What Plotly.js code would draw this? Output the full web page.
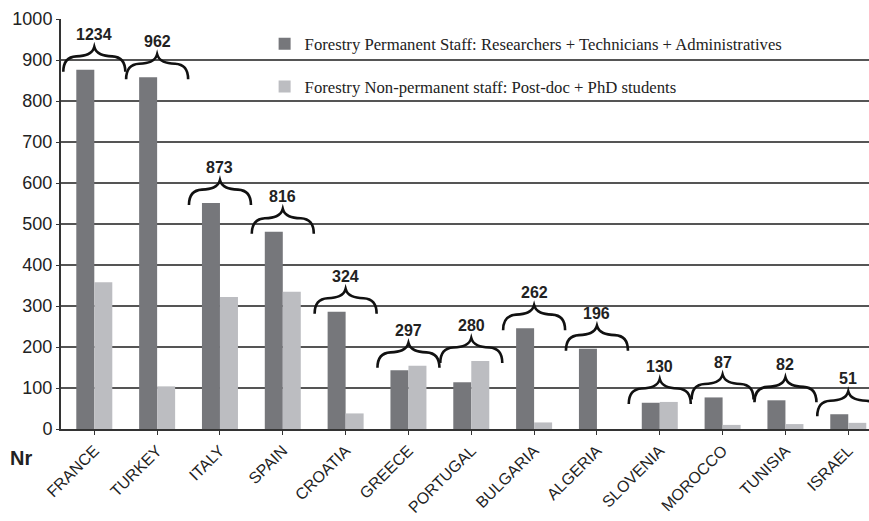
<!DOCTYPE html>
<html>
<head>
<meta charset="utf-8">
<script src="https://cdn.plot.ly/plotly-3.0.1.min.js"></script>
<style>html,body{margin:0;padding:0;background:#fff;overflow:hidden;}#chart{width:869px;height:521px;}</style>
</head>
<body>
<div id="chart"></div>
<script>
const countries = ["FRANCE","TURKEY","ITALY","SPAIN","CROATIA","GREECE","PORTUGAL","BULGARIA","ALGERIA","SLOVENIA","MOROCCO","TUNISIA","ISRAEL"];
const permanent = [876, 858, 551, 481, 286, 143, 114, 246, 196, 64, 77, 70, 36];
const nonPermanent = [358, 104, 322, 335, 38, 154, 166, 16, 0, 66, 10, 12, 15];
const totals = [1234, 962, 873, 816, 324, 297, 280, 262, 196, 130, 87, 82, 51];
const seriesNames = ["Forestry Permanent Staff: Researchers + Technicians + Administratives",
                     "Forestry Non-permanent staff: Post-doc + PhD students"];

const idx = countries.map((c, i) => i);

// geometry helpers (pixel -> data unit conversions)
const W = 869, H = 521;
const mL = 61, mR = 0, mT = 18.5, mB = 91.5;
const xr = [-0.53, 12.33];
const yr = [0, 1000];
const pxX = (xr[1] - xr[0]) / (W - mL - mR);
const pxY = (yr[1] - yr[0]) / (H - mT - mB);

const shapes = [];
const annotations = [];
idx.forEach(i => {
  const top = Math.max(permanent[i], nonPermanent[i]);
  const yb = top - 2 * pxY;
  const cx = i;
  // P(dx, dy): pixel offsets from brace bottom-centre (dy upward)
  const P = (dx, dy) => `${cx + dx * pxX},${yb + dy * pxY}`;
  const path = `M ${P(-31, 0)} C ${P(-31, 9)} ${P(-27, 15)} ${P(-18, 15.5)} ` +
               `C ${P(-9, 16)} ${P(-2, 17.5)} ${P(0, 25)} ` +
               `C ${P(2, 17.5)} ${P(9, 16)} ${P(18, 15.5)} ` +
               `C ${P(27, 15)} ${P(31, 9)} ${P(31, 0)}`;
  shapes.push({type: 'path', xref: 'x', yref: 'y', path: path, line: {color: '#111', width: 2.6}});
  annotations.push({x: cx, y: yb + (25 + 12.5) * pxY, xref: 'x', yref: 'y', text: '<b>' + totals[i] + '</b>',
    showarrow: false, yanchor: 'middle', xanchor: 'center',
    font: {family: 'Liberation Sans, Arial, sans-serif', size: 16, color: '#222'}});
});
annotations.push({xref: 'paper', yref: 'paper', x: -0.049, y: -0.07, text: '<b>Nr</b>', showarrow: false,
  xanchor: 'center', yanchor: 'middle', font: {family: 'Liberation Sans, Arial, sans-serif', size: 20, color: '#222'}});

const data = [
  {type: 'bar', x: idx, y: permanent, name: seriesNames[0], legendgroup: 'a',
   marker: {color: '#76777b', line: {width: 0}}},
  {type: 'bar', x: idx, y: nonPermanent, name: seriesNames[1], legendgroup: 'b',
   marker: {color: '#bcbdc1', line: {width: 0}}}
];

const layout = {
  width: W, height: H,
  margin: {l: mL, r: mR, t: mT, b: mB, pad: 0},
  paper_bgcolor: '#fff', plot_bgcolor: 'rgba(0,0,0,0)',
  barmode: 'group', bargap: 0.427, bargroupgap: 0,
  showlegend: true,
  legend: {x: 0.252, y: 0.982, xanchor: 'left', yanchor: 'top', bgcolor: 'rgba(0,0,0,0)',
    traceorder: 'grouped', tracegroupgap: 18,
    font: {family: 'Liberation Serif, Times New Roman, serif', size: 16.7, color: '#222'}},
  xaxis: {range: xr, tickmode: 'array', tickvals: idx, ticktext: countries, tickangle: -45,
    showgrid: false, zeroline: false, showline: true, linecolor: '#333', linewidth: 2,
    ticks: 'outside', ticklen: 4, tickcolor: '#333', tickwidth: 1,
    tickfont: {family: 'Liberation Sans, Arial, sans-serif', size: 16, color: '#222'}},
  yaxis: {range: yr, tickvals: [0,100,200,300,400,500,600,700,800,900,1000],
    showgrid: true, gridcolor: '#555', gridwidth: 1.5, zeroline: false,
    showline: true, linecolor: '#333', linewidth: 2, ticks: 'outside', ticklen: 3, tickcolor: '#333',
    tickfont: {family: 'Liberation Sans, Arial, sans-serif', size: 18, color: '#222'}},
  shapes: shapes,
  annotations: annotations
};

Plotly.newPlot('chart', data, layout, {displayModeBar: false, staticPlot: true});
</script>
</body>
</html>
